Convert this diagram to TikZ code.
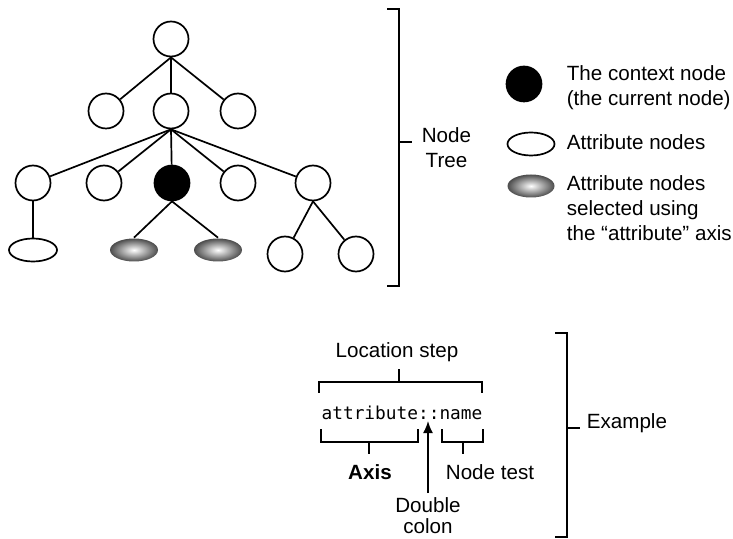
\documentclass[tikz,border=0pt]{standalone}
\usepackage{fontspec}
\setmainfont{Liberation Sans}
\setmonofont{DejaVu Sans Mono}
\usetikzlibrary{shapes.geometric,arrows.meta}

\tikzset{
  tnode/.style={draw,circle,minimum size=17.5pt,inner sep=0pt,fill=white},
  attnode/.style={draw,ellipse,minimum width=24pt,minimum height=11.5pt,inner sep=0pt},
  selnode/.style={attnode,draw=none,inner color=white,outer color=black!70},
  lbl/.style={font=\fontsize{10.3}{12.5}\selectfont,inner sep=0pt}
}

\begin{document}
\begin{tikzpicture}[x=0.5pt,y=-0.5pt,line width=0.85pt]
  \useasboundingbox (0,0) rectangle (733,539);
  % the node tree
  \node[tnode] (r) at (171,39) {};
  \foreach \n/\x in {a1/106,a2/171,a3/238}{
    \node[tnode] (\n) at (\x,111) {};
    \draw (r.south) -- (\n);}
  \foreach \n/\x/\f in {b1/33/white,b2/104/white,b3/172/black,b4/238/white,b5/313/white}{
    \node[tnode,fill=\f] (\n) at (\x,183) {};
    \draw (a2.south) -- (\n);}
  \node[attnode] (e1) at (33,250) {};
  \node[selnode] (g1) at (134,250) {};
  \node[selnode] (g2) at (218,250) {};
  \node[tnode] (c1) at (285,254) {};
  \node[tnode] (c2) at (356,254) {};
  \draw (b1) -- (e1);
  \draw (b3.south) -- (g1.north);
  \draw (b3.south) -- (g2.north);
  \draw (b5.south) -- (c1);
  \draw (b5.south) -- (c2);
  % bracket
  \draw (387,9) -- (399,9) -- (399,286) -- (387,286);
  \draw (399,142) -- (412,142);
  \node[lbl,align=center,anchor=west] (tree) at (421,148) {Node\\Tree};
  % legend
  \node[tnode,fill=black] (ctx) at (524,84) {};
  \node[lbl,anchor=west,align=left] (ctxtxt) at (566,88) {The context node\\(the current node)};
  \node[attnode,minimum width=23.5pt] (att) at (531,144) {};
  \node[lbl,anchor=west] (atttxt) at (566,142) {Attribute nodes};
  \node[selnode,minimum width=23.5pt] (sel) at (531,186) {};
  \node[lbl,anchor=west,align=left] (seltxt) at (566,208) {Attribute nodes\\selected using\\the “attribute” axis};
  % the location step
  \node[lbl] (ls) at (397,352) {Location step};
  \draw (319,393) -- (319,382) -- (482,382) -- (482,393);
  \draw (399,382) -- (399,369);
  \node[inner sep=0pt,font=\ttfamily\fontsize{8.9}{10}\selectfont] (code) at (402,413) {attribute::name};
  \draw (321,429) -- (321,442) -- (418,442) -- (418,429);
  \draw (369,442) -- (369,454);
  \node[lbl] (axis) at (370,472) {\bfseries Axis};
  \draw (442,429) -- (442,442) -- (483,442) -- (483,429);
  \draw (463,442) -- (463,454);
  \node[lbl] (nt) at (490,472) {Node test};
  \node[lbl,align=center,font=\fontsize{10.3}{10.5}\selectfont] (dc) at (428,516) {Double\\colon};
  \coordinate (dctip) at (428,421);
  \draw[-{Latex[length=6pt,width=5pt]}] ([yshift=2pt]dc.north) -- (dctip);
  \draw (555,333) -- (567,333) -- (567,537) -- (555,537);
  \draw (567,428) -- (580,428);
  \node[lbl,anchor=west] (ex) at (586,423) {Example};
\end{tikzpicture}
\end{document}
